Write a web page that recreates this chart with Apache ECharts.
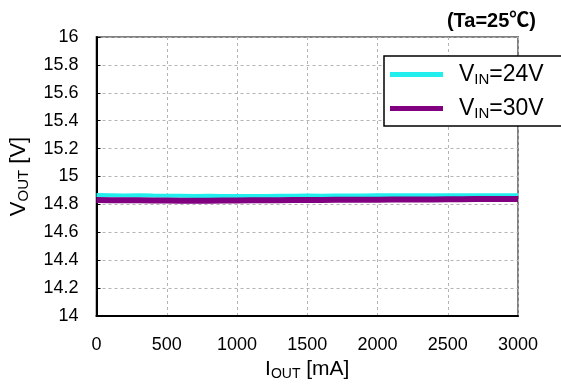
<!DOCTYPE html>
<html>
<head>
<meta charset="utf-8">
<script src="https://cdn.jsdelivr.net/npm/echarts@6/dist/echarts.min.js"></script>
<style>
  html, body { margin: 0; padding: 0; background: #fff; }
  #chart { width: 561px; height: 387px; }
</style>
</head>
<body>
<div id="chart"></div>
<script>
// output current in mA, one sample every 100 mA
const iout = [0,100,200,300,400,500,600,700,800,900,1000,1100,1200,1300,1400,1500,
  1600,1700,1800,1900,2000,2100,2200,2300,2400,2500,2600,2700,2800,2900,3000];
// VOUT readings [V]
const vin24 = [14.868,14.866,14.864,14.865,14.863,14.862,14.862,14.861,14.862,14.861,14.860,
  14.861,14.861,14.862,14.862,14.863,14.862,14.863,14.864,14.864,14.865,14.865,14.866,14.865,
  14.866,14.866,14.866,14.866,14.866,14.866,14.866];
const vin30 = [14.832,14.830,14.829,14.829,14.828,14.828,14.827,14.827,14.827,14.828,14.828,
  14.829,14.829,14.830,14.831,14.832,14.832,14.833,14.833,14.834,14.834,14.835,14.835,14.836,
  14.836,14.837,14.837,14.838,14.838,14.839,14.839];
const xTicks = [0, 500, 1000, 1500, 2000, 2500, 3000];
const yTicks = [14, 14.2, 14.4, 14.6, 14.8, 15, 15.2, 15.4, 15.6, 15.8, 16];

const FONT = '"Liberation Sans", Arial, "Noto Sans CJK JP", sans-serif';
const chart = echarts.init(document.getElementById('chart'));

const pair = (xs, ys) => xs.map((x, i) => [x, ys[i]]);

chart.setOption({
  animation: false,
  textStyle: { fontFamily: FONT },
  title: {
    text: '(Ta=25\u2103)',
    right: 20, top: 6,
    textStyle: { fontSize: 20, fontWeight: 'bold', color: '#000', fontFamily: FONT }
  },
  grid: { left: 96, right: 43, top: 37, bottom: 71, show: true, borderColor: '#808080', borderWidth: 2 },
  legend: {
    orient: 'vertical',
    left: 384, top: 56,
    padding: [7, 30, 5, 6],
    itemWidth: 53, itemHeight: 5, itemGap: 10,
    icon: 'rect',
    backgroundColor: '#fff',
    borderColor: '#000', borderWidth: 1.5, borderRadius: 0,
    data: ['24V', '30V'],
    formatter: n => '{g|}{v|V}{s|IN}{v|=' + n + '}',
    textStyle: {
      rich: {
        g: { width: 11 },
        v: { fontSize: 23, color: '#000', fontFamily: FONT, lineHeight: 26, verticalAlign: 'middle' },
        s: { fontSize: 15, color: '#000', fontFamily: FONT, padding: [10, 0, 0, 0], verticalAlign: 'middle' }
      }
    }
  },
  xAxis: {
    type: 'value', min: 0, max: 3000, interval: 500,
    name: '{m|I}{s|OUT}{m| [mA]}',
    nameLocation: 'middle', nameGap: 42,
    nameTextStyle: {
      rich: {
        m: { fontSize: 21, color: '#000', fontFamily: FONT, verticalAlign: 'middle' },
        s: { fontSize: 14, color: '#000', fontFamily: FONT, padding: [9, 0, 0, 0], verticalAlign: 'middle' }
      }
    },
    axisLine: { lineStyle: { color: '#000', width: 2 } },
    axisTick: { show: false },
    axisLabel: { fontSize: 18, color: '#000', margin: 20, formatter: v => xTicks.includes(v) ? String(v) : '' },
    splitLine: { lineStyle: { color: '#b4b4b4', type: [3, 3], width: 1 } }
  },
  yAxis: {
    type: 'value', min: 14, max: 16, interval: 0.2,
    name: '{m|V}{s|OUT}{m| [V]}',
    nameLocation: 'middle', nameGap: 65, nameRotate: 90,
    nameTextStyle: {
      rich: {
        m: { fontSize: 22, color: '#000', fontFamily: FONT, verticalAlign: 'middle' },
        s: { fontSize: 15, color: '#000', fontFamily: FONT, padding: [10, 0, 0, 0], verticalAlign: 'middle' }
      }
    },
    axisLine: { show: true, lineStyle: { color: '#000', width: 2 } },
    axisTick: { show: true, inside: true, length: 4, lineStyle: { color: '#000' } },
    axisLabel: {
      fontSize: 18, color: '#000', margin: 18,
      formatter: v => { const t = yTicks.find(k => Math.abs(k - v) < 1e-6); return t === undefined ? '' : String(t); }
    },
    splitLine: { lineStyle: { color: '#b4b4b4', type: [3, 3], width: 1 } }
  },
  series: [
    {
      name: '24V', type: 'line', showSymbol: false, z: 2,
      data: pair(iout, vin24),
      itemStyle: { color: '#22EEEE' },
      lineStyle: { color: '#22EEEE', width: 4 }
    },
    {
      name: '30V', type: 'line', showSymbol: false, z: 3,
      data: pair(iout, vin30),
      itemStyle: { color: '#800080' },
      lineStyle: { color: '#800080', width: 6 }
    }
  ]
});
</script>
</body>
</html>
